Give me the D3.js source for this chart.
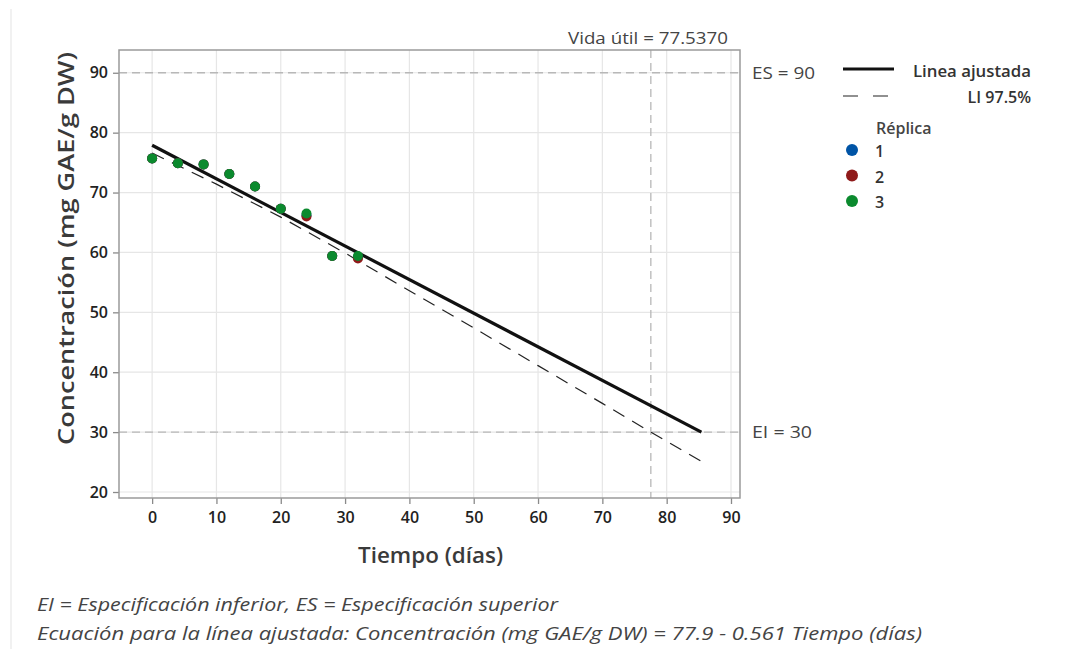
<!DOCTYPE html>
<html>
<head>
<meta charset="utf-8">
<script src="https://cdn.jsdelivr.net/npm/d3@7"></script>
<style>
  body { margin: 0; background: #fff; }
  svg { font-family: "Open Sans", "Noto Sans", sans-serif; }
</style>
</head>
<body>
<div id="chart"></div>
<script>
// data
const tiempo = [0, 4, 8, 12, 16, 20, 24, 28, 32];
const replica1 = [75.7, 74.9, 74.7, 73.1, 71.0, 67.3, 66.2, 59.4, 59.2];
const replica2 = [75.7, 74.9, 74.7, 73.1, 71.0, 67.3, 66.0, 59.4, 59.0];
const replica3 = [75.7, 74.9, 74.7, 73.1, 71.0, 67.3, 66.5, 59.4, 59.4];
const replicas = ["1", "2", "3"];
const replicaColors = ["#0054a6", "#8f1a1a", "#0b8a2e"];

// fitted line: 77.9 - 0.561 t, drawn from t = 0 to where it meets EI
const fitT = [0, 85.4];
const fitY = [77.9, 30.0];

// lower 97.5% bound
const liT = [0, 10, 20, 30, 40, 50, 60, 70, 77.537, 85.4];
const liY = [76.6, 71.4, 65.9, 59.9, 53.6, 47.4, 41.1, 34.8, 30.0, 25.1];

const xTicks = [0, 10, 20, 30, 40, 50, 60, 70, 80, 90];
const yTicks = [20, 30, 40, 50, 60, 70, 80, 90];
const ES = 90, EI = 30, vidaUtil = 77.537;

const W = 1067, H = 649;
const plot = { left: 119, top: 50, right: 740, bottom: 498 };

const svg = d3.select("#chart").append("svg")
  .attr("width", W).attr("height", H);

// faint page border on the left
svg.append("line")
  .attr("x1", 11).attr("x2", 11).attr("y1", 9).attr("y2", H)
  .attr("stroke", "#ececec").attr("stroke-width", 1.5);

const x = d3.scaleLinear().domain([-5.15, 91.4]).range([plot.left, plot.right]);
const y = d3.scaleLinear().domain([19.0, 93.8]).range([plot.bottom, plot.top]);

// grid
svg.append("g").selectAll("line").data(xTicks).join("line")
  .attr("x1", d => x(d)).attr("x2", d => x(d))
  .attr("y1", plot.top).attr("y2", plot.bottom)
  .attr("stroke", "#e6e6e6").attr("stroke-width", 1.2);
svg.append("g").selectAll("line").data(yTicks).join("line")
  .attr("x1", plot.left).attr("x2", plot.right)
  .attr("y1", d => y(d)).attr("y2", d => y(d))
  .attr("stroke", "#e6e6e6").attr("stroke-width", 1.2);

// reference lines
const refStyle = sel => sel.attr("stroke", "#b8b8b8").attr("stroke-width", 1.3)
  .attr("stroke-dasharray", "8,5");
svg.append("line").call(refStyle)
  .attr("x1", plot.left).attr("x2", plot.right)
  .attr("y1", y(ES)).attr("y2", y(ES));
svg.append("line").call(refStyle)
  .attr("x1", plot.left).attr("x2", plot.right)
  .attr("y1", y(EI)).attr("y2", y(EI));
svg.append("line").call(refStyle)
  .attr("x1", x(vidaUtil)).attr("x2", x(vidaUtil))
  .attr("y1", plot.top).attr("y2", plot.bottom);

// axes
const xAxis = svg.append("g")
  .attr("transform", `translate(0,${plot.bottom})`)
  .call(d3.axisBottom(x).tickValues(xTicks).tickSize(6).tickPadding(8).tickSizeOuter(0));
const yAxis = svg.append("g")
  .attr("transform", `translate(${plot.left},0)`)
  .call(d3.axisLeft(y).tickValues(yTicks).tickSize(6).tickPadding(5).tickSizeOuter(0));
[xAxis, yAxis].forEach(a => {
  a.select(".domain").remove();
  a.selectAll(".tick line").attr("stroke", "#8a8a8a").attr("stroke-width", 1.3);
  a.selectAll(".tick text").attr("fill", "#222").style("font-size", "16px")
    .style("font-weight", 600)
    .style("font-family", "'Open Sans', sans-serif");
});

// frame
svg.append("rect")
  .attr("x", plot.left).attr("y", plot.top)
  .attr("width", plot.right - plot.left).attr("height", plot.bottom - plot.top)
  .attr("fill", "none").attr("stroke", "#9a9a9a").attr("stroke-width", 1.5);

// lower bound (dashed)
const liData = liT.map((t, i) => [t, liY[i]]);
svg.append("path").datum(liData)
  .attr("d", d3.line().x(d => x(d[0])).y(d => y(d[1])))
  .attr("fill", "none").attr("stroke", "#222").attr("stroke-width", 1.2)
  .attr("stroke-dasharray", "13,9");

// fitted line
const fitData = fitT.map((t, i) => [t, fitY[i]]);
svg.append("path").datum(fitData)
  .attr("d", d3.line().x(d => x(d[0])).y(d => y(d[1])))
  .attr("fill", "none").attr("stroke", "#111").attr("stroke-width", 3.2);

// points
[replica1, replica2, replica3].forEach((vals, k) => {
  svg.append("g").selectAll("circle").data(vals).join("circle")
    .attr("cx", (d, i) => x(tiempo[i]))
    .attr("cy", d => y(d))
    .attr("r", 5)
    .attr("fill", replicaColors[k]);
});

const label = (sel, size, len, weight) => {
  sel.attr("fill", "#444").style("font-size", size + "px").style("font-weight", weight || 400);
  if (len) sel.attr("textLength", len).attr("lengthAdjust", "spacingAndGlyphs");
  return sel;
};

// reference labels
svg.append("text").attr("x", 752).attr("y", y(ES) + 6)
  .call(label, 16.5, 63).text("ES = 90");
svg.append("text").attr("x", 752).attr("y", y(EI) + 6)
  .call(label, 16.5, 60).text("EI = 30");
svg.append("text").attr("x", 568).attr("y", 44)
  .call(label, 16.5, 160).text("Vida útil = 77.5370");

// axis titles
svg.append("text")
  .attr("x", 358).attr("y", 563)
  .attr("fill", "#3a3a3a").style("font-size", "21px").style("font-weight", 600)
  .attr("textLength", 145).attr("lengthAdjust", "spacingAndGlyphs")
  .text("Tiempo (días)");
svg.append("text")
  .attr("transform", `translate(74,445) rotate(-90)`)
  .attr("fill", "#3a3a3a").style("font-size", "21px").style("font-weight", 600)
  .attr("textLength", 393).attr("lengthAdjust", "spacingAndGlyphs")
  .text("Concentración (mg GAE/g DW)");

// legend
const lg = svg.append("g");
lg.append("line").attr("x1", 843).attr("x2", 894).attr("y1", 69).attr("y2", 69)
  .attr("stroke", "#111").attr("stroke-width", 3.2);
lg.append("text").attr("x", 913).attr("y", 77)
  .call(label, 16, 118, 600).attr("fill", "#333").text("Linea ajustada");
lg.append("line").attr("x1", 843).attr("x2", 890).attr("y1", 96).attr("y2", 96)
  .attr("stroke", "#222").attr("stroke-width", 1.2).attr("stroke-dasharray", "15,15");
lg.append("text").attr("x", 1031).attr("y", 103).attr("text-anchor", "end")
  .call(label, 16, 0, 600).attr("fill", "#333").text("LI 97.5%");
lg.append("text").attr("x", 876).attr("y", 134)
  .call(label, 16, 0, 600).text("Réplica");
replicas.forEach((r, i) => {
  lg.append("circle").attr("cx", 852).attr("cy", 150 + i * 25.5).attr("r", 6)
    .attr("fill", replicaColors[i]);
  lg.append("text").attr("x", 875).attr("y", 157 + i * 25.5)
    .call(label, 16, 0, 600).attr("fill", "#333").text(r);
});

// footnotes
svg.append("text").attr("x", 37).attr("y", 611)
  .attr("fill", "#444").style("font-size", "19px").style("font-style", "italic")
  .attr("textLength", 521).attr("lengthAdjust", "spacingAndGlyphs")
  .text("EI = Especificación inferior, ES = Especificación superior");
svg.append("text").attr("x", 37).attr("y", 640)
  .attr("fill", "#444").style("font-size", "19px").style("font-style", "italic")
  .attr("textLength", 885).attr("lengthAdjust", "spacingAndGlyphs")
  .text("Ecuación para la línea ajustada: Concentración (mg GAE/g DW) = 77.9 - 0.561 Tiempo (días)");
</script>
</body>
</html>
